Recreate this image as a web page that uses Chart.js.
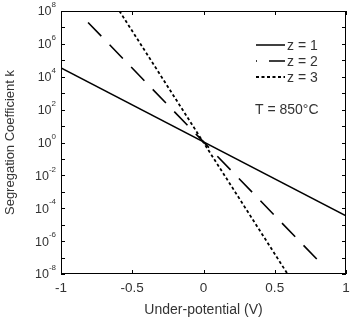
<!DOCTYPE html>
<html>
<head>
<meta charset="utf-8">
<script src="https://cdn.jsdelivr.net/npm/chart.js@4/dist/chart.umd.min.js"></script>
<style>
  html, body { margin: 0; padding: 0; background: #fff; }
  #wrap { width: 350px; height: 320px; }
</style>
</head>
<body>
<div id="wrap"><canvas id="segChart"></canvas></div>
<script>
// values (end points of each straight line)
const potZ1 = [-1, 1];
const kZ1 = [3.5e4, 3.4e-5];
const potZ2 = [-0.81, 0.85];
const kZ2 = [2.0e7, 2.6e-8];
const potZ3 = [-0.59, 0.59];
const kZ3 = [1e8, 1e-8];

const seriesLabels = ['z = 1', 'z = 2', 'z = 3'];
const xTicks = [-1, -0.5, 0, 0.5, 1];
const xTickLabels = ['-1', '-0.5', '0', '0.5', '1'];
const yExponents = [-8, -7, -6, -5, -4, -3, -2, -1, 0, 1, 2, 3, 4, 5, 6, 7, 8];
const note = 'T = 850\u00B0C';

const FONT = '"Liberation Sans", Arial, sans-serif';
const TXT = '#333';

function pts(xs, ys) {
  return xs.map((v, i) => ({ x: v, y: ys[i] }));
}

// frame, inward ticks, y labels with superscripts, legend
const framePlugin = {
  id: 'frame',
  afterDraw(chart) {
    const { ctx, chartArea: a, scales } = chart;
    const x = scales.x, y = scales.y;
    ctx.save();
    ctx.strokeStyle = '#000';
    ctx.lineWidth = 1;
    ctx.strokeRect(a.left + 0.5, a.top + 0.5, a.right - a.left - 1, a.bottom - a.top - 1);

    ctx.beginPath();
    xTicks.forEach(t => {
      const px = Math.round(x.getPixelForValue(t)) + 0.5;
      ctx.moveTo(px, a.bottom); ctx.lineTo(px, a.bottom - 4);
      ctx.moveTo(px, a.top); ctx.lineTo(px, a.top + 4);
    });
    yExponents.forEach(e => {
      const py = Math.round(y.getPixelForValue(Math.pow(10, e))) + 0.5;
      ctx.moveTo(a.left, py); ctx.lineTo(a.left + 4, py);
      ctx.moveTo(a.right, py); ctx.lineTo(a.right - 4, py);
    });
    ctx.stroke();

    // y tick labels: 10 with raised exponent
    ctx.fillStyle = TXT;
    ctx.textBaseline = 'middle';
    yExponents.filter(e => e % 2 === 0).forEach(e => {
      const py = y.getPixelForValue(Math.pow(10, e));
      const ex = String(e);
      ctx.font = '8px ' + FONT;
      ctx.textAlign = 'right';
      const ew = ctx.measureText(ex).width;
      ctx.fillText(ex, a.left - 5, py - 6);
      ctx.font = '12.5px ' + FONT;
      ctx.fillText('10', a.left - 5 - ew, py + 1);
    });

    // legend
    const lx = 256, lw = 29;
    chart.data.datasets.forEach((ds, i) => {
      const ly = 45 + i * 16;
      ctx.strokeStyle = ds.borderColor;
      ctx.lineWidth = ds.borderWidth;
      ctx.setLineDash(ds.borderDash || []);
      ctx.lineDashOffset = i === 1 ? 18 : 0;
      ctx.beginPath();
      ctx.moveTo(lx, ly); ctx.lineTo(lx + lw, ly);
      ctx.stroke();
      ctx.setLineDash([]);
      ctx.font = '14px ' + FONT;
      ctx.textAlign = 'left';
      ctx.fillText(ds.label, lx + lw + 2, ly + 1);
    });
    ctx.fillText(note, 255, 110);
    ctx.restore();
  }
};

new Chart(document.getElementById('segChart'), {
  type: 'scatter',
  data: {
    datasets: [
      { label: seriesLabels[0], data: pts(potZ1, kZ1), borderColor: '#000', borderWidth: 1.5 },
      { label: seriesLabels[1], data: pts(potZ2, kZ2), borderColor: '#000', borderWidth: 1.6, borderDash: [19, 12] },
      { label: seriesLabels[2], data: pts(potZ3, kZ3), borderColor: '#000', borderWidth: 1.8, borderDash: [3, 2.5] }
    ].map(d => Object.assign(d, { showLine: true, pointRadius: 0, fill: false, tension: 0 }))
  },
  options: {
    responsive: true,
    maintainAspectRatio: false,
    animation: false,
    layout: { padding: { left: 0, right: 4, top: 11, bottom: 0 } },
    plugins: { legend: { display: false }, tooltip: { enabled: false } },
    scales: {
      x: {
        type: 'linear',
        min: -1, max: 1,
        afterBuildTicks: s => { s.ticks = xTicks.map(v => ({ value: v })); },
        afterFit: s => { s.height = 46; s.paddingLeft = 0; s.paddingRight = 0; },
        grid: { display: false, drawTicks: false, tickLength: 0 },
        border: { display: false },
        ticks: {
          color: TXT, font: { family: FONT, size: 13.5 }, padding: 6, maxRotation: 0,
          callback: (v, i) => xTickLabels[i]
        },
        title: { display: true, text: 'Under-potential (V)', color: TXT, font: { family: FONT, size: 14 }, padding: { top: 0, bottom: 1 } }
      },
      y: {
        type: 'logarithmic',
        min: 1e-8, max: 1e8,
        afterBuildTicks: s => { s.ticks = yExponents.map(e => ({ value: Math.pow(10, e) })); },
        afterFit: s => { s.width = 61; s.paddingTop = 0; s.paddingBottom = 0; },
        grid: { display: false },
        border: { display: false },
        ticks: { display: false },
        title: { display: true, text: 'Segregation Coefficient k', color: TXT, font: { family: FONT, size: 13 }, padding: 3 }
      }
    }
  },
  plugins: [framePlugin]
});
</script>
</body>
</html>
